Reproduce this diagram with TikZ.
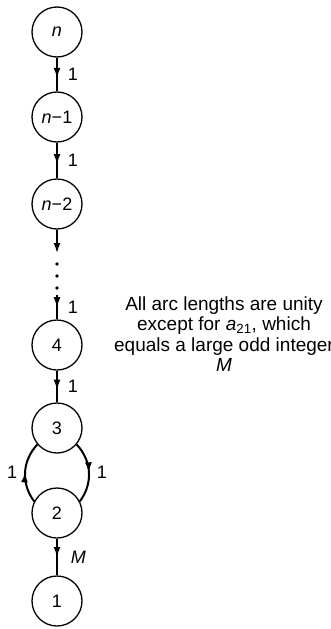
\documentclass[tikz,border=0pt]{standalone}
\usepackage{fontspec}
\setmainfont{Liberation Sans}
\usetikzlibrary{arrows.meta,decorations.markings,positioning}

\begin{document}
\begin{tikzpicture}[x=1pt, y=-1pt,
    vertex/.style={circle, draw, line width=1.3pt, minimum size=50pt, inner sep=0pt, font=\fontsize{18}{20}\selectfont},
    edgearr/.style={line width=1.5pt, postaction={decorate}, decoration={markings, mark=at position #1 with {\arrow{Latex[length=10pt,width=7pt]}}}},
    edgearr/.default=0.6,
    elabel/.style={font=\fontsize{18}{20}\selectfont, inner sep=2pt}]

    \useasboundingbox (0,0) rectangle (330,629);

    % Vertices
    \node[vertex] (vn) at (57,32) {\textit{n}};
    \node[vertex] (vn1) at (57,117) {\textit{n}−1};
    \node[vertex] (vn2) at (57,204) {\textit{n}−2};
    \node[vertex] (v4) at (57,345) {4};
    \node[vertex] (v3) at (57,428) {3};
    \node[vertex] (v2) at (57,513) {2};
    \node[vertex] (v1) at (57,601) {1};

    % Gap in the chain
    \coordinate (dtop) at (57,253);
    \coordinate (dbot) at (57,295);
    \foreach \y in {264,276,288}
        \fill (57,\y) circle (1.8pt);

    % Note
    \node[font=\fontsize{19}{20.5}\selectfont, align=center] (note) at (224,334)
        {All arc lengths are unity\\except for \textit{a}\textsubscript{21}, which\\equals a large odd integer\\\textit{M}};

    % Arcs
    \draw[edgearr] (vn) -- node[elabel, right=8pt] {1} (vn1);
    \draw[edgearr] (vn1) -- node[elabel, right=8pt] {1} (vn2);
    \draw[line width=1.5pt, -{Latex[length=10pt,width=7pt]}] (vn2) -- (dtop);
    \draw[edgearr=0.5] (dbot) -- node[elabel, right=8pt] {1} (v4);
    \draw[edgearr] (v4) -- node[elabel, right=8pt] {1} (v3);
    \draw[edgearr=0.5, line width=2pt] (v2.153) to[bend left=40] node[elabel, left=5pt] {1} (v3.220);
    \draw[edgearr=0.5, line width=2pt] (v3.320) to[bend left=40] node[elabel, right=5pt] {1} (v2.27);
    \draw[edgearr=0.5] (v2) -- node[elabel, right=11pt] {\textit{M}} (v1);
\end{tikzpicture}
\end{document}
